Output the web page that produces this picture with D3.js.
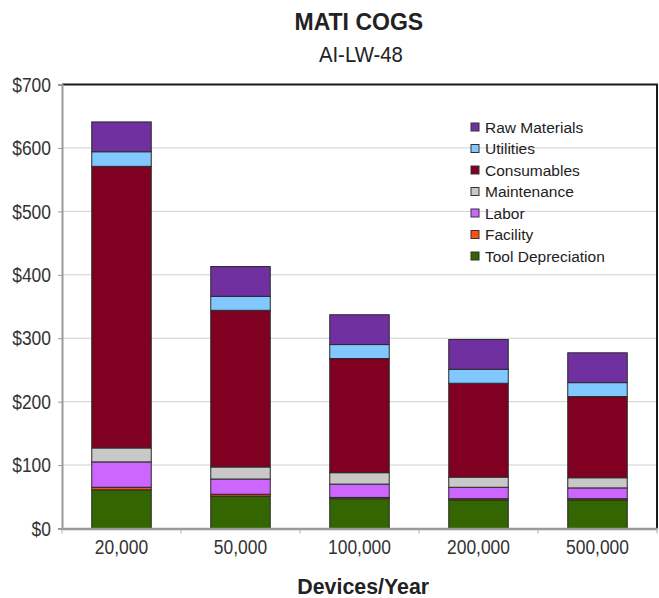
<!DOCTYPE html>
<html><head><meta charset="utf-8">
<script src="https://cdn.jsdelivr.net/npm/d3@7/dist/d3.min.js"></script>
<style>
html,body{margin:0;padding:0;background:#fff;}
svg{display:block;font-family:"Liberation Sans",Arial,sans-serif;}
</style></head>
<body><svg id="chart" width="659" height="598"></svg>
<script>
const categories = ["20,000","50,000","100,000","200,000","500,000"];
const seriesNames = ["Tool Depreciation","Facility","Labor","Maintenance","Consumables","Utilities","Raw Materials"];
const toolDepreciation = [61,51,47,45,45];
const facility = [4,3,2,2,2];
const labor = [40,24,21,18,17];
const maintenance = [22,19,18,16,16];
const consumables = [444,247,180,148,128];
const utilities = [23,22,22,22,22];
const rawMaterials = [47,47,47,47,47];
const yTicks = [0,100,200,300,400,500,600,700];
const colors = ["#336600","#FF4F10","#CC66FF","#C8C8C8","#7F0020","#80C8FF","#7030A0"];

const seriesValues = [toolDepreciation,facility,labor,maintenance,consumables,utilities,rawMaterials];
const rows = categories.map((c,i)=>{const r={cat:c}; seriesNames.forEach((s,j)=>r[s]=seriesValues[j][i]); return r;});

const svg = d3.select("#chart");
const m = {l:62, r:2, t:84.5, b:69.5};
const W = 659, H = 598;
const x = d3.scaleBand().domain(categories).range([m.l, W-m.r]).paddingInner(0.5).paddingOuter(0.25);
const y = d3.scaleLinear().domain([0,700]).range([H-m.b, m.t]);
const SX = 0.83;

// gridlines
svg.append("g").selectAll("line").data(yTicks.slice(1,-1)).join("line")
  .attr("x1",m.l).attr("x2",W-m.r).attr("y1",d=>y(d)).attr("y2",d=>y(d))
  .attr("stroke","#cfcfcf").attr("stroke-width",1);

// bars
const stack = d3.stack().keys(seriesNames)(rows);
svg.append("g").selectAll("g").data(stack).join("g")
  .attr("fill",(d,i)=>colors[i])
  .selectAll("rect").data(d=>d).join("rect")
  .attr("x",d=>x(d.data.cat)).attr("width",x.bandwidth())
  .attr("y",d=>y(d[1])).attr("height",d=>y(d[0])-y(d[1]))
  .attr("stroke","#2a2a2a").attr("stroke-width",1);

// frame top/right
svg.append("path").attr("d",`M${m.l},${m.t}H${W-m.r}V${H-m.b}`)
  .attr("fill","none").attr("stroke","#1a1a1a").attr("stroke-width",2);

// y axis
const yAxis = svg.append("g").attr("transform",`translate(${m.l},0)`)
  .call(d3.axisLeft(y).tickValues(yTicks).tickFormat(d=>"$"+d).tickSize(4).tickPadding(7));
yAxis.select(".domain").attr("stroke","#999").attr("stroke-width",2);
yAxis.selectAll(".tick line").attr("stroke","#999");
yAxis.selectAll("text").attr("font-size",21).attr("fill","#333")
  .attr("font-family","Liberation Sans, Arial, sans-serif")
  .attr("x",0).attr("transform",`translate(-11,0) scale(${SX},1)`);

// x axis
const xAxis = svg.append("g").attr("transform",`translate(0,${H-m.b})`)
  .call(d3.axisBottom(x).tickSize(0).tickPadding(14));
xAxis.select(".domain").attr("stroke","#999").attr("stroke-width",2.5);
xAxis.selectAll("text").attr("font-size",21).attr("fill","#333")
  .attr("font-family","Liberation Sans, Arial, sans-serif")
  .attr("y",0).attr("dy",null).attr("transform",`translate(0,25.5) scale(${SX},1)`);
// boundary ticks
const bounds = d3.range(categories.length+1).map(i=>m.l + i*((W-m.r-m.l)/categories.length));
svg.append("g").selectAll("line").data(bounds).join("line")
  .attr("x1",d=>d).attr("x2",d=>d).attr("y1",H-m.b).attr("y2",H-m.b+5)
  .attr("stroke","#aaa").attr("stroke-width",1);

// titles
svg.append("text").attr("transform","translate(358.8,30)").attr("text-anchor","middle")
  .attr("font-size",23).attr("font-weight","bold").attr("fill","#222").text("MATI COGS");
svg.append("text").attr("transform","translate(360.9,62.3) scale(0.885,1)").attr("text-anchor","middle")
  .attr("font-size",23).attr("fill","#222").text("AI-LW-48");
svg.append("text").attr("transform","translate(363.2,593.5) scale(0.95,1)").attr("text-anchor","middle")
  .attr("font-size",22.5).attr("font-weight","bold").attr("fill","#222").text("Devices/Year");

// legend
const legendOrder = seriesNames.map((s,i)=>({name:s,color:colors[i]})).reverse();
const lg = svg.append("g").attr("transform","translate(471,127)");
const item = lg.selectAll("g").data(legendOrder).join("g")
  .attr("transform",(d,i)=>`translate(0,${i*21.5})`);
item.append("rect").attr("x",0).attr("y",-4).attr("width",8).attr("height",8)
  .attr("fill",d=>d.color).attr("stroke","#333").attr("stroke-width",1);
item.append("text").attr("x",14).attr("y",0).attr("dy","0.36em")
  .attr("font-size",15.5).attr("fill","#222").text(d=>d.name);
</script></body></html>
